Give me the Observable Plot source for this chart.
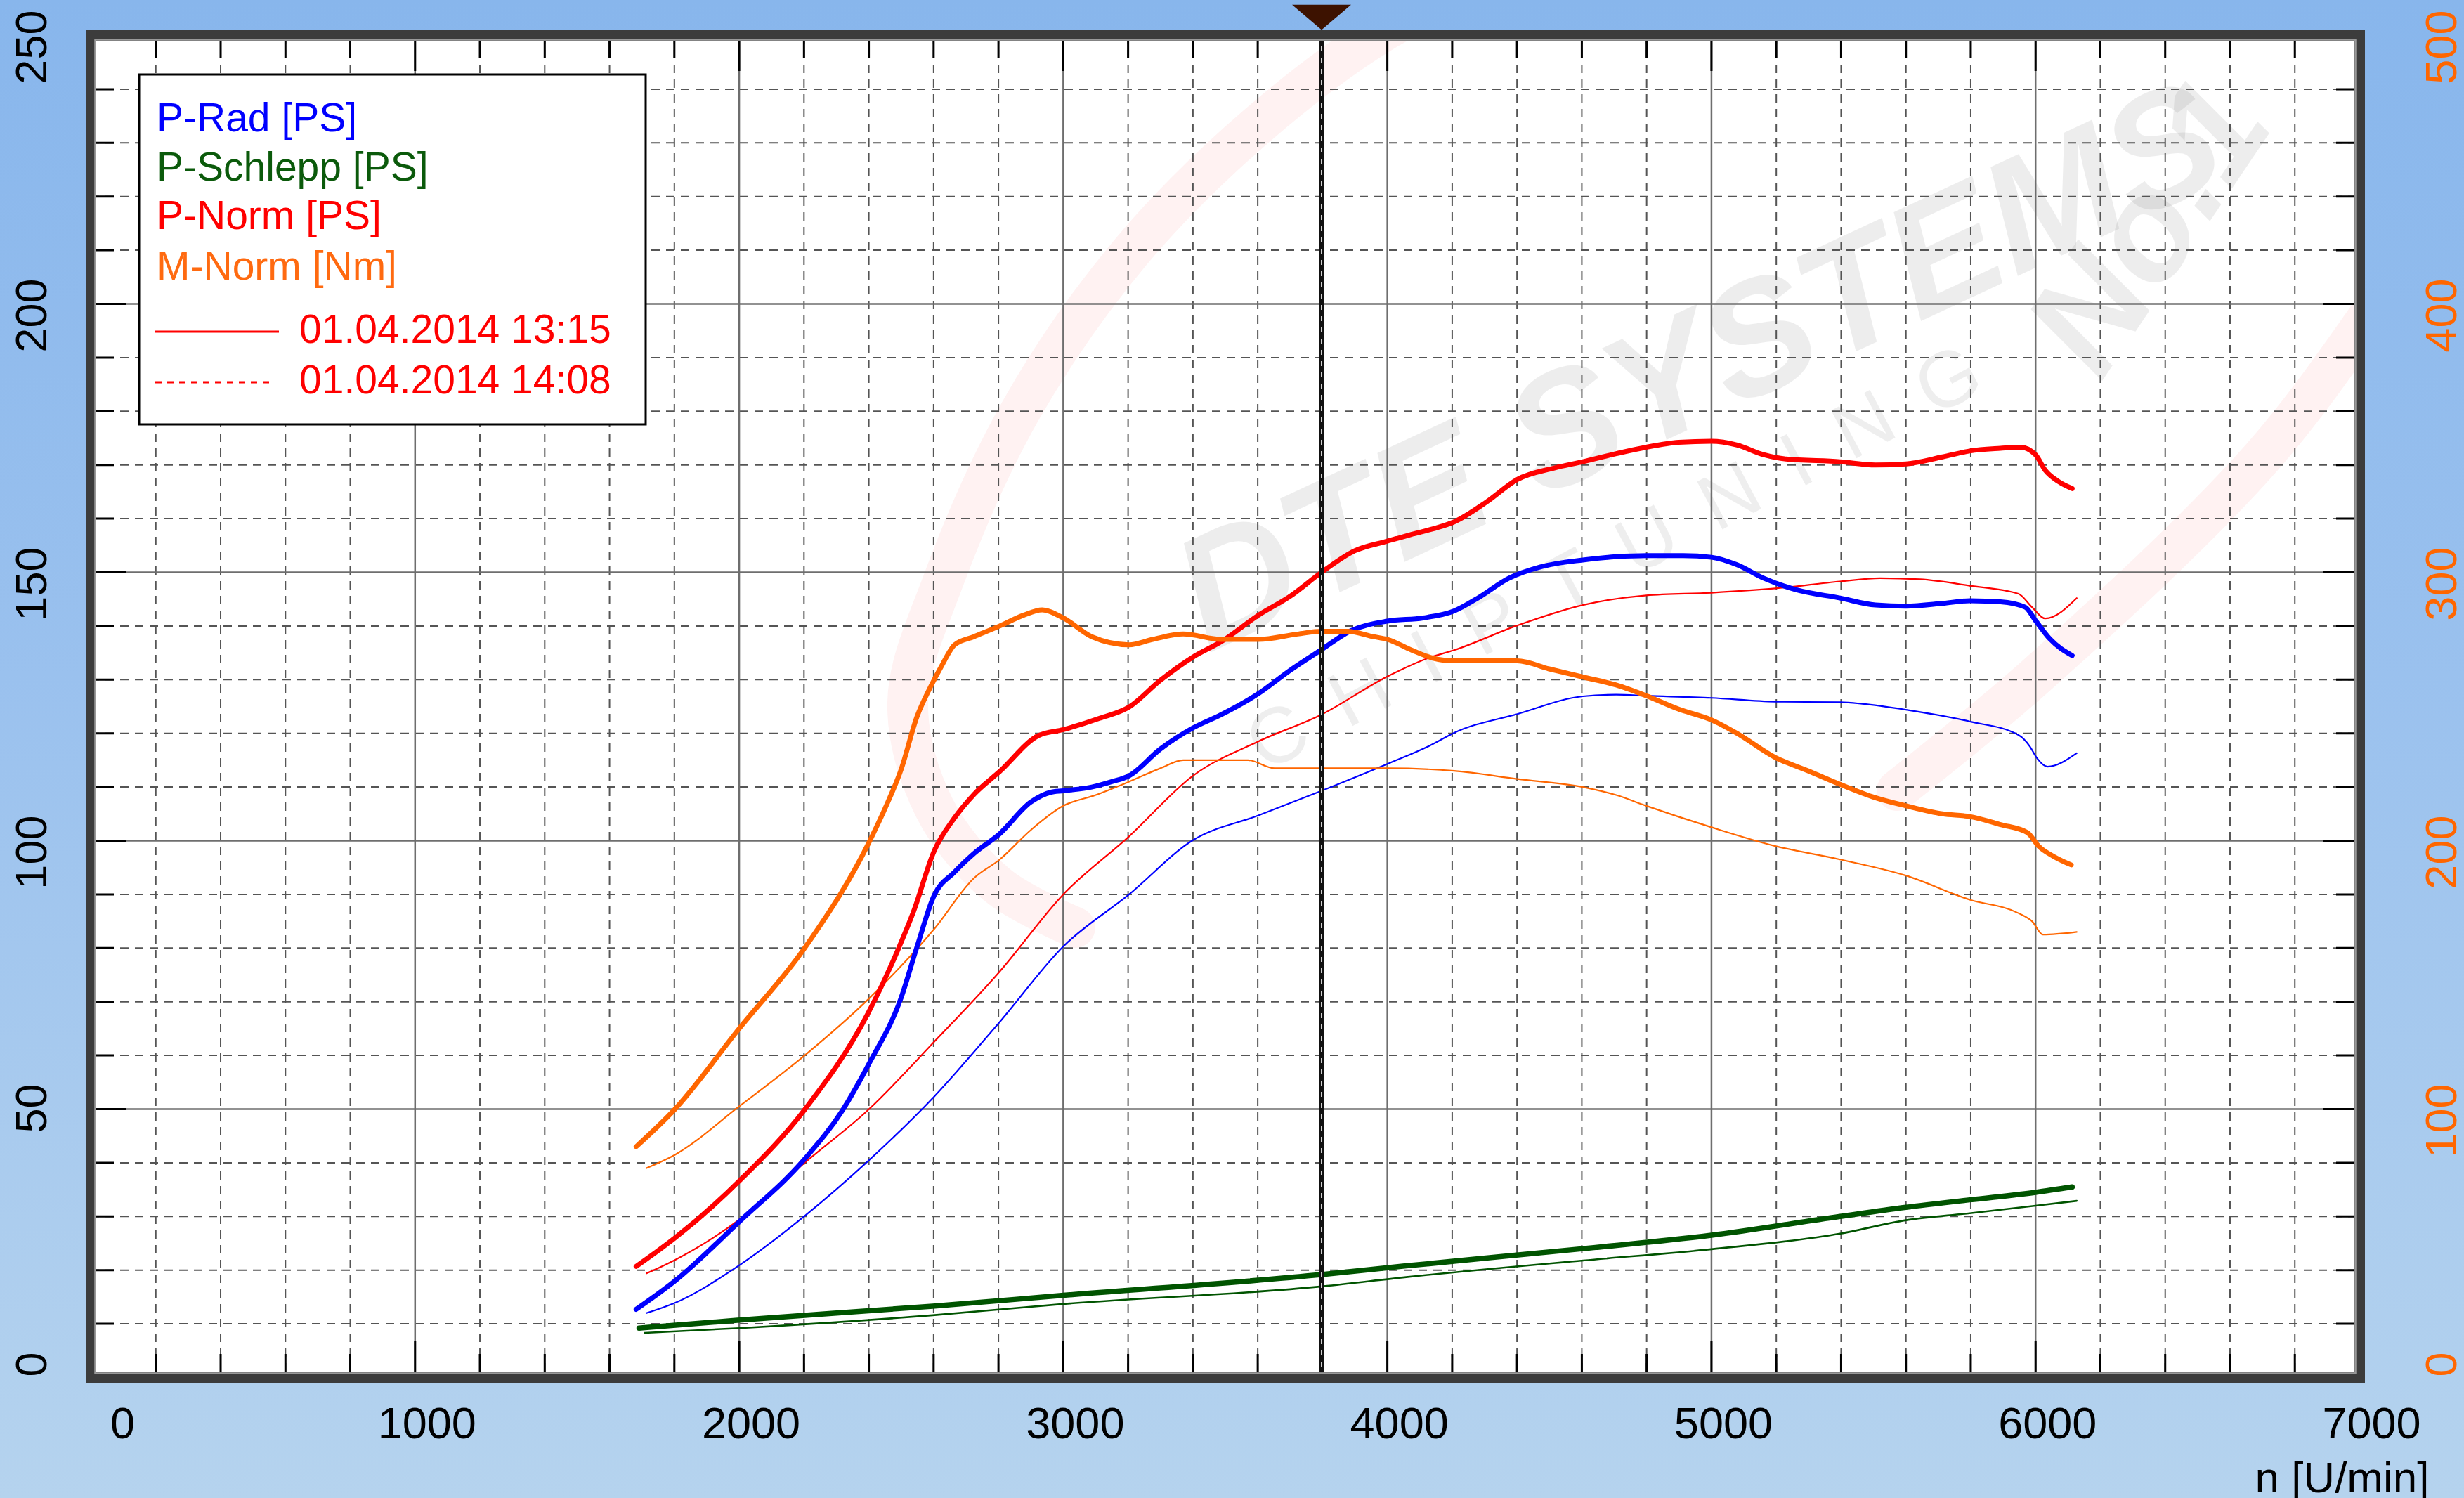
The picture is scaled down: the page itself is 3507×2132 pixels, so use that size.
<!DOCTYPE html>
<html>
<head>
<meta charset="utf-8">
<script src="https://cdn.jsdelivr.net/npm/d3@7"></script>
<script src="https://cdn.jsdelivr.net/npm/@observablehq/plot@0.6"></script>
<style>
html,body{margin:0;padding:0;}
body{width:3507px;height:2132px;overflow:hidden;background:linear-gradient(to bottom,#88b6ec 0%,#9ac1ee 45%,#b5d3ee 100%);font-family:"Liberation Sans",Arial,sans-serif;}
#chart{position:absolute;left:0;top:0;}
</style>
</head>
<body>
<div id="chart"></div>
<script>
// ---------------- DATA (rpm, value) ----------------
// P in PS (left axis), M in Nm (right axis)
const pRad1315 = [[1682,12.7],[1802,18.0],[2000,29.0],[2202,40.7],[2320,49.9],[2400,58.4],[2500,70.8],[2550,80.5],[2600,89.6],[2665,94.2],[2724,97.6],[2804,101.3],[2900,107.2],[2960,109.0],[3000,109.3],[3088,110.0],[3150,111.0],[3203,112.1],[3300,117.1],[3400,121.0],[3488,123.5],[3602,127.4],[3699,131.7],[3797,135.6],[3887,139.1],[4000,140.9],[4110,141.5],[4206,142.8],[4279,145.2],[4375,148.9],[4472,151.0],[4603,152.3],[4706,152.9],[4800,153.1],[4913,153.1],[5000,152.8],[5079,151.4],[5161,148.9],[5258,146.8],[5397,145.2],[5506,143.9],[5600,143.7],[5713,144.2],[5797,144.7],[5892,144.5],[5968,143.5],[6000,141.0],[6044,137.6],[6113,134.5]];
const pSchlepp1315 = [[1691,9.2],[2001,10.7],[2597,13.3],[3000,15.3],[3802,19.2],[4058,20.8],[4604,24.0],[5000,26.5],[5397,30.0],[5600,31.7],[5797,33.1],[6000,34.5],[6113,35.5]];
const pNorm1315 = [[1682,20.7],[1802,26.0],[2000,36.6],[2202,49.9],[2399,68.0],[2490,79.7],[2538,86.8],[2601,98.0],[2665,104.3],[2724,108.6],[2804,112.9],[2924,119.6],[3000,120.7],[3112,122.8],[3203,124.9],[3300,129.9],[3400,134.2],[3488,137.1],[3602,142.0],[3699,145.5],[3797,150.0],[3899,154.0],[4000,155.8],[4070,157.0],[4141,158.1],[4206,159.4],[4306,163.1],[4401,167.3],[4513,169.4],[4603,170.6],[4706,172.1],[4799,173.3],[4899,174.2],[5000,174.4],[5079,173.7],[5161,171.9],[5230,171.1],[5397,170.6],[5506,170.0],[5600,170.2],[5713,171.5],[5797,172.6],[5892,173.1],[5954,173.3],[6000,171.9],[6030,169.0],[6071,166.9],[6113,165.6]];
const mNorm1315 = [[1682,86],[1802,100],[2000,130],[2202,160],[2399,199],[2450,212],[2501,227],[2548,246],[2589,257],[2624,265],[2665,273],[2724,276],[2804,280],[2877,284],[2935,286],[3000,283],[3088,276],[3203,273],[3276,275],[3370,277],[3488,275],[3602,275],[3723,277],[3797,278],[3875,278],[3958,276],[4000,275],[4075,271],[4141,268],[4206,267],[4401,267],[4499,264],[4603,261],[4706,258],[4799,254],[4899,249],[5000,245],[5079,240],[5197,231],[5299,226],[5397,221],[5506,216],[5600,213],[5713,210],[5797,209],[5892,206],[5975,203],[6009,198],[6058,194],[6110,191]];

const pRad1408 = [[1714,12.0],[1802,13.9],[2000,20.9],[2202,30.1],[2399,40.4],[2601,52.3],[2802,66.1],[3000,80.3],[3203,90.0],[3400,100.1],[3602,104.7],[3797,109.3],[4000,114.3],[4134,117.8],[4206,120.1],[4401,123.6],[4603,126.9],[4706,127.2],[4799,127.0],[5000,126.6],[5197,125.9],[5397,125.8],[5465,125.5],[5600,124.4],[5797,122.2],[5947,119.7],[5982,117.6],[6003,115.5],[6037,113.8],[6127,116.3]];
const pSchlepp1408 = [[1708,8.3],[2001,9.2],[2597,11.6],[3000,13.7],[3802,17.0],[4058,18.7],[4604,21.8],[5000,23.9],[5397,26.8],[5600,29.3],[5797,30.6],[6000,32.0],[6127,32.9]];
const pNorm1408 = [[1714,19.4],[1802,21.9],[2000,29.4],[2202,40.0],[2399,49.9],[2601,62.5],[2802,75.5],[3000,90.0],[3203,100.8],[3400,112.1],[3602,118.5],[3797,123.5],[4000,130.6],[4134,134.2],[4206,135.5],[4401,140.1],[4603,143.9],[4799,145.7],[5000,146.2],[5197,147.0],[5397,148.3],[5520,148.9],[5644,148.7],[5797,147.5],[5947,146.0],[5989,143.5],[6030,141.4],[6127,145.2]];
const mNorm1408 = [[1714,78],[1802,83],[2000,101],[2202,120],[2399,141],[2601,167],[2724,186],[2804,193],[2900,204],[3000,213],[3100,217],[3203,222],[3300,227],[3370,230],[3488,230],[3570,230],[3652,227],[3797,227],[4000,227],[4206,226],[4401,223],[4603,220],[4706,217],[4799,213],[5000,205],[5197,198],[5397,193],[5600,187],[5797,178],[5947,173],[5989,170],[6023,165],[6127,166]];

const cursorRpm = 3797;

// tick labels
const xTickLabels = [0,1000,2000,3000,4000,5000,6000,7000];
const yLeftLabels = [0,50,100,150,200,250];
const yRightLabels = [0,100,200,300,400,500];
const xTitle = "n [U/min]";

// legend
const legendNames = ["P-Rad [PS]","P-Schlepp [PS]","P-Norm [PS]","M-Norm [Nm]"];
const legendRuns = ["01.04.2014 13:15","01.04.2014 14:08"];

// ---------------- STYLE ----------------
const C = {rad:"#0000ff", schlepp:"#005400", norm:"#ff0000", mnorm:"#ff6600"};
const legendColors = ["#0000ff","#0b5a0b","#ff0000","#ff6a10"];
const W = 3507, H = 2132;
const M = {left:129, right:149, top:50, bottom:172};
const plotW = W - M.left - M.right, plotH = H - M.top - M.bottom;
const xMax = 7000, yMax = 250;
const rpmPerPx = xMax/plotW, psPerPx = yMax/plotH;
const tMinor = 33, tMajor = 51;

const xGrid = d3.range(0, xMax + 1, 200);
const yGrid = d3.range(0, yMax + 1, 10);
const isMajX = v => v % 1000 === 0;
const isMajY = v => v % 50 === 0;
const inner = (v, max) => v > 0 && v < max;

const series = [
  {d:pSchlepp1408, c:C.schlepp, w:2.6, nm:false},
  {d:pRad1408, c:C.rad, w:2.2, nm:false},
  {d:pNorm1408, c:C.norm, w:2.2, nm:false},
  {d:mNorm1408, c:C.mnorm, w:2.2, nm:true},
  {d:pSchlepp1315, c:C.schlepp, w:7.5, nm:false},
  {d:pRad1315, c:C.rad, w:7, nm:false},
  {d:pNorm1315, c:C.norm, w:7, nm:false},
  {d:mNorm1315, c:C.mnorm, w:7, nm:true}
];

const flatTri = {draw(ctx, size){ const s = Math.sqrt(size/Math.PI); ctx.moveTo(-s,-0.854*s); ctx.lineTo(s,-0.854*s); ctx.lineTo(0,0); ctx.closePath(); }};
const FONT = "'Liberation Sans', Arial, sans-serif";

const marks = [
  Plot.frame({fill:"white"}),
  // grid
  Plot.ruleX(xGrid.filter(v => inner(v,xMax) && !isMajX(v)), {stroke:"#555", strokeWidth:2, strokeDasharray:"12,9"}),
  Plot.ruleY(yGrid.filter(v => inner(v,yMax) && !isMajY(v)), {stroke:"#555", strokeWidth:2, strokeDasharray:"12,9"}),
  Plot.ruleX(xGrid.filter(v => inner(v,xMax) && isMajX(v)), {stroke:"#6e6e6e", strokeWidth:2.5}),
  Plot.ruleY(yGrid.filter(v => inner(v,yMax) && isMajY(v)), {stroke:"#6e6e6e", strokeWidth:2.5}),
  // edge ticks
  Plot.ruleX(xGrid, {y1:0, y2:d => (isMajX(d)?tMajor:tMinor)*psPerPx, stroke:"#000", strokeWidth:3}),
  Plot.ruleX(xGrid, {y1:yMax, y2:d => yMax-(isMajX(d)?tMajor:tMinor)*psPerPx, stroke:"#000", strokeWidth:3}),
  Plot.ruleY(yGrid, {x1:0, x2:d => (isMajY(d)?tMajor:tMinor)*rpmPerPx, stroke:"#000", strokeWidth:3}),
  Plot.ruleY(yGrid, {x1:xMax, x2:d => xMax-(isMajY(d)?tMajor:tMinor)*rpmPerPx, stroke:"#000", strokeWidth:3}),
  // curves
  ...series.map(s => Plot.line(s.d, {x:d => d[0], y:d => s.nm ? d[1]/2 : d[1], stroke:s.c, strokeWidth:s.w, curve:"monotone-x", strokeLinejoin:"round"})),
  // cursor
  Plot.ruleX([cursorRpm], {stroke:"#111", strokeWidth:8}),
  Plot.ruleX([cursorRpm], {stroke:"#cfcfcf", strokeWidth:2, strokeDasharray:"7,9"}),
  // frame border
  Plot.frame({stroke:"#3c3c3c", strokeWidth:15}),
  Plot.frame({stroke:"#9a9a9a", strokeWidth:2.5, inset:6}),
  Plot.dot([cursorRpm], {x:d => d, y:() => yMax, r:42, symbol:flatTri, fill:"#3d1200", stroke:"none", dy:-8}),
  // tick labels
  Plot.text(xTickLabels.filter(v => v > 0), {x:d => d, frameAnchor:"bottom", dx:17, dy:66, text:d => String(d), fontSize:63, fill:"#000", lineAnchor:"middle", fontFamily:FONT}),
  Plot.text(xTickLabels.filter(v => v === 0), {x:d => d, frameAnchor:"bottom", dx:45, dy:66, text:d => String(d), fontSize:63, fill:"#000", lineAnchor:"middle", fontFamily:FONT}),
  Plot.text(yLeftLabels, {y:d => d, frameAnchor:"left", dx:-84, dy:-36, rotate:-90, textAnchor:"end", lineAnchor:"middle", text:d => String(d), fontSize:63, fill:"#000", fontFamily:FONT}),
  Plot.text(yRightLabels, {y:d => d/2, frameAnchor:"right", dx:117, dy:-36, rotate:-90, textAnchor:"end", lineAnchor:"middle", text:d => String(d), fontSize:63, fill:"#ff6600", fontFamily:FONT}),
  Plot.text([xTitle], {frameAnchor:"bottom-right", dx:99, dy:163, textAnchor:"end", lineAnchor:"bottom", text:d => d, fontSize:62, fill:"#000", fontFamily:FONT})
];

const chart = Plot.plot({
  width:W, height:H,
  marginLeft:M.left, marginRight:M.right, marginTop:M.top, marginBottom:M.bottom,
  x:{domain:[0,xMax], axis:null},
  y:{domain:[0,yMax], axis:null},
  style:{background:"transparent", fontFamily:FONT, overflow:"visible"},
  marks
});
document.getElementById("chart").append(chart);

// ---------------- watermark (behind grid) ----------------
const svg = d3.select(chart);
svg.append("defs").append("clipPath").attr("id","plotclip")
  .append("rect").attr("x",M.left).attr("y",M.top).attr("width",plotW).attr("height",plotH);
const wm = svg.append("g").attr("font-family",FONT).attr("text-anchor","start");
const arcs = wm.append("g").attr("clip-path","url(#plotclip)");
const arc = d3.line().curve(d3.curveCatmullRom);
const leftArc = [[2100,-20],[1968,45],[1789,179],[1610,358],[1454,582],[1342,828],[1292,1000],[1330,1150],[1420,1260],[1530,1320]];
const rightArc = [[2700,1125],[2900,960],[3221,649],[3422,380],[3560,200]];
[leftArc, rightArc].forEach(a => arcs.append("path").attr("d", arc(a)).attr("fill","none")
  .attr("stroke","#ff1a1a").attr("stroke-opacity",0.055).attr("stroke-width",58).attr("stroke-linecap","round"));
wm.append("text").attr("transform","translate(1720,930) rotate(-25)").attr("font-size",228)
  .attr("font-weight","bold").attr("font-style","italic").attr("fill","#000").attr("fill-opacity",0.07).text("DTE SYSTEMS");
wm.append("text").attr("transform","translate(1800,1100) rotate(-28)").attr("font-size",112)
  .attr("letter-spacing",52).attr("fill","#000").attr("fill-opacity",0.065).text("CHIPTUNING");
wm.append("text").attr("transform","translate(2990,545) rotate(-56)").attr("font-size",205)
  .attr("font-weight","bold").attr("font-style","italic").attr("fill","#000").attr("fill-opacity",0.07).text("No.1");
const frameFill = chart.querySelector('[aria-label="frame"]');
if (frameFill) frameFill.after(wm.node());

// ---------------- legend ----------------
const lg = svg.append("g").attr("font-family",FONT).attr("text-anchor","start");
lg.append("rect").attr("x",198).attr("y",106).attr("width",721).attr("height",498)
  .attr("fill","#fff").attr("stroke","#000").attr("stroke-width",3);
const nameBase = [187,257,326,398];
legendNames.forEach((n,i) => lg.append("text").attr("x",223).attr("y",nameBase[i])
  .attr("font-size",57).attr("fill",legendColors[i]).text(n));
const runBase = [488,560];
legendRuns.forEach((n,i) => {
  lg.append("text").attr("x",426).attr("y",runBase[i]).attr("font-size",57).attr("fill","#ff0000").text(n);
  lg.append("line").attr("x1",221).attr("x2",i ? 392 : 397).attr("y1",runBase[i]-16).attr("y2",runBase[i]-16)
    .attr("stroke","#ff0000").attr("stroke-width",3).attr("stroke-dasharray", i ? "9,8" : null);
});
</script>
</body>
</html>
